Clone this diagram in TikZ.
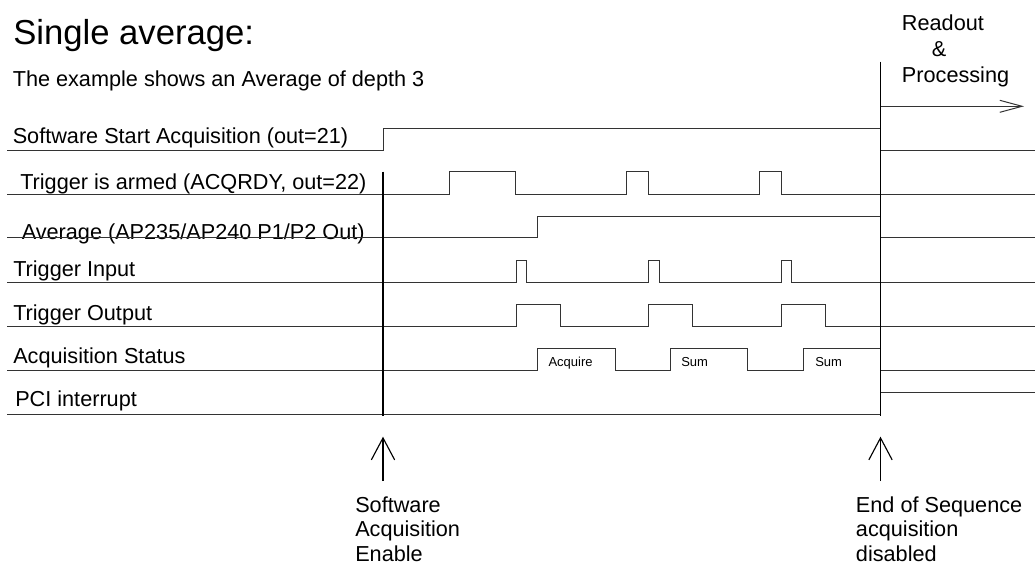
\documentclass[tikz,border=0pt]{standalone}
\usepackage{fontspec}
\setmainfont{Liberation Sans}
\usetikzlibrary{arrows.meta}

\begin{document}
\begin{tikzpicture}[x=0.75pt,y=0.75pt,yscale=-1,xscale=1,
    sig/.style={draw=black!80, line width=0.75pt},
    marker/.style={draw=black, line width=0.85pt},
    lbl/.style={anchor=base west, inner sep=0pt, font={\fontsize{16.25pt}{19.5pt}\selectfont}},
    tag/.style={anchor=base west, inner sep=0pt, font={\fontsize{9.75pt}{11pt}\selectfont}}]
        \useasboundingbox (0,0) rectangle (1035,567);

        % Text Node
        \draw (13,44.5) node [anchor=base west][inner sep=0pt][font={\fontsize{26pt}{30pt}\selectfont}] (title) {Single average:};
        % Text Node
        \draw (12.5,87) node [lbl] (subtitle) {The example shows an Average of depth 3};

        % Text Node
        \draw (12.5,143.5) node [lbl] (lblSoft) {Software Start Acquisition (out=21)};
        % Text Node
        \draw (20,189) node [lbl] (lblArmed) {Trigger is armed (ACQRDY, out=22)};
        % Text Node
        \draw (21.5,239) node [lbl] (lblAvg) {Average (AP235/AP240 P1/P2 Out)};
        % Text Node
        \draw (13,276) node [lbl] (lblTrgIn) {Trigger Input};
        % Text Node
        \draw (13,320) node [lbl] (lblTrgOut) {Trigger Output};
        % Text Node
        \draw (13,363) node [lbl] (lblStatus) {Acquisition Status};
        % Text Node
        \draw (15,406.5) node [lbl] (lblPci) {PCI interrupt};

        %Shape: Software start
        \draw [sig] (7,150) -- (383,150) -- (383,128.3) -- (880.5,128.3) ;
        \draw [sig] (880.5,150) -- (1035,150) ;
        %Shape: Trigger armed
        \draw [sig] (7,194) -- (449,194) -- (449,171.7) -- (515.7,171.7) -- (515.7,194) -- (626.7,194) -- (626.7,171.7) -- (648.5,171.7) -- (648.5,194) -- (759,194) -- (759,171.7) -- (781.5,171.7) -- (781.5,194) -- (1035,194) ;
        %Shape: Average
        \draw [sig] (7,237.5) -- (537.7,237.5) -- (537.7,216) -- (880.5,216) ;
        \draw [sig] (880.5,237.5) -- (1035,237.5) ;
        %Shape: Trigger input
        \draw [sig] (7,282.7) -- (516,282.7) -- (516,260.7) -- (526.3,260.7) -- (526.3,282.7) -- (648.5,282.7) -- (648.5,260.7) -- (659,260.7) -- (659,282.7) -- (781.7,282.7) -- (781.7,260.7) -- (791.7,260.7) -- (791.7,282.7) -- (1035,282.7) ;
        %Shape: Trigger output
        \draw [sig] (7,326.7) -- (516,326.7) -- (516,304.3) -- (560,304.3) -- (560,326.7) -- (648.5,326.7) -- (648.5,304.3) -- (692.3,304.3) -- (692.3,326.7) -- (781.7,326.7) -- (781.7,304.3) -- (825.3,304.3) -- (825.3,326.7) -- (1035,326.7) ;
        %Shape: Acquisition status
        \draw [sig] (7,370.3) -- (537.7,370.3) -- (537.7,348.7) -- (615.3,348.7) -- (615.3,370.3) -- (670.7,370.3) -- (670.7,348.7) -- (747.7,348.7) -- (747.7,370.3) -- (803.3,370.3) -- (803.3,348.7) -- (880.5,348.7) ;
        \draw [sig] (880.5,370.3) -- (1035,370.3) ;
        %Shape: PCI interrupt
        \draw [sig] (7,414) -- (880.5,414) ;
        \draw [sig] (880.5,392.3) -- (1035,392.3) ;

        % Text Node
        \draw (548.3,366) node [tag] (tagAcq) {Acquire};
        % Text Node
        \draw (681,366) node [tag] (tagSum1) {Sum};
        % Text Node
        \draw (815,366) node [tag] (tagSum2) {Sum};

        %Shape: start and end markers
        \coordinate (startTop) at (383,171.7);
        \coordinate (startBot) at (383,416);
        \coordinate (endTop) at (880.5,61.7);
        \coordinate (endBot) at (880.5,416);
        \draw [marker] (startTop) -- (startBot) ;
        \draw [marker] (endTop) -- (endBot) ;

        %Shape: event arrows
        \coordinate (startTail) at (383,481);
        \coordinate (startTip) at (383,436.7);
        \coordinate (endTail) at (880.5,481);
        \coordinate (endTip) at (880.5,436.7);
        \draw [marker,-{Straight Barb[length=16.5pt,width=17.5pt]}] (startTail) -- (startTip) ;
        \draw [marker,-{Straight Barb[length=16.5pt,width=17.5pt]}] (endTail) -- (endTip) ;
        \coordinate (readFrom) at (880.5,106.3);
        \coordinate (readTip) at (1024,106.3);
        \draw [sig,-{Straight Barb[length=16.7pt,width=9pt]}] (readFrom) -- (readTip) ;

        % Text Node
        \draw (901.7,30.7) node [lbl] (lblReadout) {Readout};
        \draw (931.7,56.5) node [lbl] (lblAmp) {\&};
        \draw (901.7,83) node [lbl] (lblProc) {Processing};
        % Text Node
        \draw (355,512) node [lbl] (lblEnable1) {Software};
        \draw (355,536.5) node [lbl] (lblEnable2) {Acquisition};
        \draw (355,561) node [lbl] (lblEnable3) {Enable};
        % Text Node
        \draw (855.7,512) node [lbl] (lblDisable1) {End of Sequence};
        \draw (855.7,536.5) node [lbl] (lblDisable2) {acquisition};
        \draw (855.7,561) node [lbl] (lblDisable3) {disabled};

\end{tikzpicture}
\end{document}
